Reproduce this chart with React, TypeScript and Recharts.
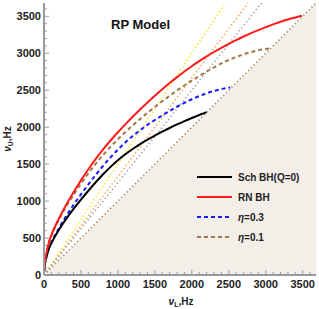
import React from "react";
import { ComposedChart, Line, Area, XAxis, YAxis } from "recharts";

const AXIS_MAX = 3680;
const allTicks = Array.from({ length: 37 }, (_, i) => i * 100);

// Sch BH (Q=0)
const schL = [2, 10, 30, 60, 100, 200, 300, 400, 500, 600, 700, 800, 900, 1000, 1100, 1200, 1300, 1400, 1500, 1600, 1700, 1800, 1900, 2000, 2100, 2200];
const schU = [50, 130, 230, 340, 430, 610, 760, 895, 1020, 1140, 1255, 1363, 1463, 1553, 1633, 1705, 1771, 1831, 1887, 1939, 1989, 2037, 2082, 2124, 2164, 2204];
// RN BH
const rnL = [2, 10, 30, 60, 100, 200, 300, 400, 500, 600, 700, 800, 900, 1000, 1100, 1200, 1300, 1400, 1500, 1600, 1700, 1800, 1900, 2000, 2100, 2200, 2300, 2400, 2500, 2600, 2700, 2800, 2900, 3000, 3100, 3200, 3300, 3400, 3490];
const rnU = [55, 145, 280, 420, 540, 760, 950, 1120, 1280, 1430, 1570, 1700, 1820, 1932, 2038, 2140, 2238, 2333, 2425, 2513, 2597, 2677, 2753, 2825, 2893, 2957, 3017, 3074, 3128, 3179, 3227, 3272, 3314, 3353, 3391, 3426, 3457, 3484, 3508];
// eta = 0.3
const e3L = [2, 10, 30, 60, 100, 200, 300, 400, 500, 600, 700, 800, 900, 1000, 1100, 1200, 1300, 1400, 1500, 1600, 1700, 1800, 1900, 2000, 2100, 2200, 2300, 2400, 2500, 2520];
const e3U = [50, 132, 235, 345, 440, 630, 800, 950, 1090, 1225, 1355, 1478, 1592, 1697, 1793, 1880, 1959, 2031, 2097, 2160, 2220, 2277, 2330, 2378, 2420, 2458, 2490, 2515, 2533, 2536];
// eta = 0.1
const e1L = [2, 10, 30, 60, 100, 200, 300, 400, 500, 600, 700, 800, 900, 1000, 1100, 1200, 1300, 1400, 1500, 1600, 1700, 1800, 1900, 2000, 2100, 2200, 2300, 2400, 2500, 2600, 2700, 2800, 2900, 3000, 3054];
const e1U = [52, 140, 270, 410, 530, 745, 925, 1085, 1235, 1375, 1505, 1625, 1735, 1837, 1933, 2024, 2111, 2194, 2274, 2351, 2425, 2496, 2564, 2629, 2692, 2753, 2810, 2862, 2909, 2950, 2986, 3016, 3040, 3057, 3064];

// resonance lines nuU : nuL = 3:2, 4:3, 5:4, 1:1 (endpoints)
const line32L = [0, 2453];
const line32U = [0, 3680];
const line43L = [0, 2760];
const line43U = [0, 3680];
const line54L = [0, 2944];
const line54U = [0, 3680];
const line11L = [0, 3680];
const line11U = [0, 3680];

const zip = (ls: number[], us: number[]) => ls.map((l, i) => ({ l, u: us[i] }));

const sch = zip(schL, schU);
const rn = zip(rnL, rnU);
const e3 = zip(e3L, e3U);
const e1 = zip(e1L, e1U);
const r32 = zip(line32L, line32U);
const r43 = zip(line43L, line43U);
const r54 = zip(line54L, line54U);
const r11 = zip(line11L, line11U);

const FRAME = "#9a9a9a";
const FONT = "'Liberation Sans', Arial, sans-serif";
const TICK_FS = 11;

const BottomTick = (p: any) => {
  const v = p.payload.value;
  const major = v % 500 === 0;
  return (
    <g>
      <line x1={p.x} x2={p.x} y1={p.y} y2={p.y - (major ? 5 : 3)} stroke={FRAME} strokeWidth={1} />
      {major && (
        <text x={p.x} y={p.y + 13} textAnchor="middle" fontSize={TICK_FS} fontWeight="bold" fontFamily={FONT} fill="#222">
          {v}
        </text>
      )}
    </g>
  );
};
const TopTick = (p: any) => {
  const major = p.payload.value % 500 === 0;
  return <line x1={p.x} x2={p.x} y1={p.y} y2={p.y + (major ? 5 : 3)} stroke={FRAME} strokeWidth={1} />;
};
const LeftTick = (p: any) => {
  const v = p.payload.value;
  const major = v % 500 === 0;
  return (
    <g>
      <line x1={p.x} x2={p.x + (major ? 5 : 3)} y1={p.y} y2={p.y} stroke={FRAME} strokeWidth={1} />
      {major && (
        <text x={p.x - 3} y={p.y + 4} textAnchor="end" fontSize={TICK_FS} fontWeight="bold" fontFamily={FONT} fill="#222">
          {v}
        </text>
      )}
    </g>
  );
};
const RightTick = (p: any) => {
  const major = p.payload.value % 500 === 0;
  return <line x1={p.x} x2={p.x - (major ? 5 : 3)} y1={p.y} y2={p.y} stroke={FRAME} strokeWidth={1} />;
};

const legendItems = [
  { name: "Sch BH(Q=0)", color: "#000000", dash: undefined as string | undefined, eta: "" },
  { name: "RN BH", color: "#ff1a1a", dash: undefined, eta: "" },
  { name: "=0.3", color: "#1a1aff", dash: "4 3", eta: "η" },
  { name: "=0.1", color: "#a0784a", dash: "4 3", eta: "η" },
];

export default function App() {
  return (
    <div style={{ position: "absolute", left: 0, top: 0, width: 319, height: 309 }}>
      <ComposedChart width={319} height={309} margin={{ top: 3, right: 3, left: 0, bottom: 0 }}>
        <XAxis
          xAxisId="b"
          dataKey="l"
          type="number"
          domain={[0, AXIS_MAX]}
          ticks={allTicks}
          interval={0}
          tickSize={0}
          tickMargin={0}
          height={34}
          tickLine={false}
          axisLine={{ stroke: FRAME, strokeWidth: 2 }}
          tick={<BottomTick />}
          allowDataOverflow
          label={{
            content: () => (
              <text x={181} y={305} textAnchor="middle" fontSize={10} fontWeight="bold" fontFamily={FONT} fill="#222">
                <tspan fontStyle="italic">ν</tspan>
                <tspan fontSize={7} dy={2}>L</tspan>
                <tspan dy={-2}>,Hz</tspan>
              </text>
            ),
          }}
        />
        <XAxis
          xAxisId="t"
          orientation="top"
          dataKey="l"
          type="number"
          domain={[0, AXIS_MAX]}
          ticks={allTicks}
          interval={0}
          tickSize={0}
          tickMargin={0}
          height={0}
          tickLine={false}
          axisLine={{ stroke: FRAME, strokeWidth: 2 }}
          tick={<TopTick />}
          allowDataOverflow
        />
        <YAxis
          yAxisId="l"
          dataKey="u"
          type="number"
          domain={[0, AXIS_MAX]}
          ticks={allTicks}
          interval={0}
          tickSize={0}
          tickMargin={0}
          width={44}
          tickLine={false}
          axisLine={{ stroke: FRAME, strokeWidth: 2 }}
          tick={<LeftTick />}
          allowDataOverflow
          label={{
            content: () => (
              <text
                x={11}
                y={139}
                transform="rotate(-90 11 139)"
                textAnchor="middle"
                fontSize={10}
                fontWeight="bold"
                fontFamily={FONT}
                fill="#222"
              >
                <tspan fontStyle="italic">ν</tspan>
                <tspan fontSize={7} dy={2}>U</tspan>
                <tspan dy={-2}>,Hz</tspan>
              </text>
            ),
          }}
        />
        <YAxis
          yAxisId="r"
          orientation="right"
          dataKey="u"
          type="number"
          domain={[0, AXIS_MAX]}
          ticks={allTicks}
          interval={0}
          tickSize={0}
          tickMargin={0}
          width={0}
          tickLine={false}
          axisLine={{ stroke: FRAME, strokeWidth: 2 }}
          tick={<RightTick />}
          allowDataOverflow
        />

        <Area
          xAxisId="b"
          yAxisId="l"
          data={r11}
          dataKey="u"
          type="linear"
          fill="#f3eee8"
          fillOpacity={1}
          stroke="none"
          baseValue={0}
          isAnimationActive={false}
          dot={false}
          activeDot={false}
        />
        <Line xAxisId="b" yAxisId="l" data={r32} dataKey="u" stroke="#f5e61e" strokeWidth={1.6} strokeDasharray="1.3 2.6" dot={false} isAnimationActive={false} />
        <Line xAxisId="b" yAxisId="l" data={r43} dataKey="u" stroke="#f5a04a" strokeWidth={1.6} strokeDasharray="1.3 2.6" dot={false} isAnimationActive={false} />
        <Line xAxisId="b" yAxisId="l" data={r54} dataKey="u" stroke="#a0a0a0" strokeWidth={1.6} strokeDasharray="1.3 2.6" dot={false} isAnimationActive={false} />
        <Line xAxisId="b" yAxisId="l" data={r11} dataKey="u" stroke="#a88a6a" strokeWidth={1.6} strokeDasharray="1.3 2.6" dot={false} isAnimationActive={false} />

        <Line xAxisId="b" yAxisId="l" data={e1} dataKey="u" type="monotone" stroke="#a0784a" strokeWidth={2} strokeDasharray="4 3" dot={false} isAnimationActive={false} />
        <Line xAxisId="b" yAxisId="l" data={e3} dataKey="u" type="monotone" stroke="#1a1aff" strokeWidth={2} strokeDasharray="4 3" dot={false} isAnimationActive={false} />
        <Line xAxisId="b" yAxisId="l" data={sch} dataKey="u" type="monotone" stroke="#000000" strokeWidth={2} dot={false} isAnimationActive={false} />
        <Line xAxisId="b" yAxisId="l" data={rn} dataKey="u" type="monotone" stroke="#ff1a1a" strokeWidth={2} dot={false} isAnimationActive={false} />
      </ComposedChart>

      <div
        style={{
          position: "absolute",
          left: 111,
          top: 17,
          fontFamily: FONT,
          fontWeight: "bold",
          fontSize: 13,
          color: "#111",
          whiteSpace: "nowrap",
        }}
      >
        RP Model
      </div>

      <div style={{ position: "absolute", left: 196, top: 167, fontFamily: FONT, fontWeight: "bold", fontSize: 10, color: "#222" }}>
        {legendItems.map((it) => (
          <div key={it.name} style={{ display: "flex", alignItems: "center", height: 20 }}>
            <svg width={38} height={6} style={{ marginRight: 4 }}>
              <line x1={1} x2={36} y1={3} y2={3} stroke={it.color} strokeWidth={2} strokeDasharray={it.dash} />
            </svg>
            <span style={{ whiteSpace: "nowrap" }}>
              {it.eta && <i>{it.eta}</i>}
              {it.name}
            </span>
          </div>
        ))}
      </div>
    </div>
  );
}
